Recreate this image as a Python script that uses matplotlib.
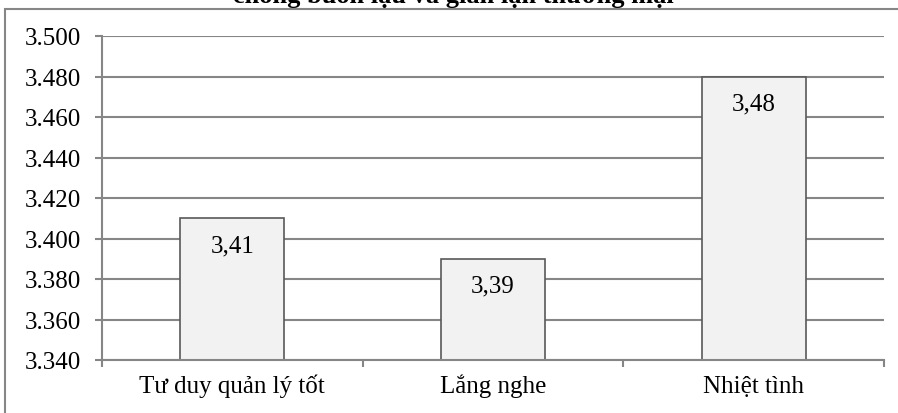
import matplotlib
matplotlib.use("Agg")
import matplotlib.pyplot as plt
from matplotlib.patches import Rectangle
from matplotlib.ticker import FixedLocator, FormatStrFormatter
from matplotlib.transforms import blended_transform_factory

categories = ["Tư duy quản lý tốt", "Lắng nghe", "Nhiệt tình"]
values = [3.41, 3.39, 3.48]
value_labels = ["3,41", "3,39", "3,48"]
title = "chống buôn lậu và gian lận thương mại"
yticks = [3.340, 3.360, 3.380, 3.400, 3.420, 3.440, 3.460, 3.480, 3.500]

plt.rcParams['font.family'] = ['Liberation Serif', 'DejaVu Serif']

W, H = 898, 414
fig = plt.figure(figsize=(W / 100, H / 100), dpi=100)
ax = fig.add_axes([102 / W, (H - 361) / H, (884 - 102) / W, (361 - 37) / H])

grey = "#868686"
fs = 18
x = list(range(len(categories)))
ax.set_ylim(3.340, 3.500)
ax.set_xlim(-0.5, len(categories) - 0.5)
ax.yaxis.set_major_locator(FixedLocator(yticks))
ax.yaxis.set_major_formatter(FormatStrFormatter("%.3f"))
ax.grid(axis='y', color=grey, linewidth=1.5, zorder=0)
ax.set_axisbelow(True)

bars = ax.bar(x, [v - 3.340 for v in values], bottom=3.340, width=0.4,
              color="#f2f2f2", edgecolor="#595959", linewidth=1.2, zorder=2)

for xi, v, lab in zip(x, values, value_labels):
    ax.annotate(lab, xy=(xi, v), xytext=(0, -19.5), textcoords='offset points',
                ha='center', va='center', fontsize=fs, color='black', zorder=3)

ax.set_xticks([i - 0.5 for i in range(len(categories) + 1)])
ax.set_xticklabels([])
ax.tick_params(axis='x', which='major', length=5, width=1.5, color=grey)
ax.tick_params(axis='y', length=5, width=1.5, color=grey, labelsize=fs, pad=10)

# category labels on a common baseline
trans = blended_transform_factory(ax.transData, ax.transAxes)
for xi, cat in zip(x, categories):
    ax.text(xi, -32 / 324, cat, transform=trans, ha='center', va='baseline',
            fontsize=fs, clip_on=False)

for s in ['top', 'right']:
    ax.spines[s].set_visible(False)
for s in ['left', 'bottom']:
    ax.spines[s].set_color(grey)
    ax.spines[s].set_linewidth(1.5)

# outer chart frame (partially cropped)
fig.patches.append(Rectangle((5 / W, -0.05), 1.1, (H - 10) / H + 0.05,
                             transform=fig.transFigure, fill=False,
                             edgecolor=grey, linewidth=1.5))

fig.text(453 / W, (H - 3) / H, title, ha='center', va='baseline',
         fontsize=19, fontweight='bold')

fig.savefig("out.png", dpi=100)
